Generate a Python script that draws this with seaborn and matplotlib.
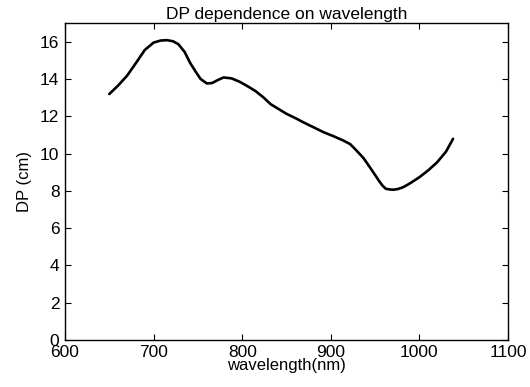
import matplotlib
matplotlib.use("Agg")
import matplotlib.pyplot as plt
import seaborn as sns
import pandas as pd

wavelength = [650, 660, 670, 680, 690, 700, 708, 715, 722, 728, 735, 741, 748, 753, 760, 766, 772, 779, 788, 797, 805, 815, 824, 832, 841, 850, 860, 870, 880, 892, 903, 914, 922, 929, 937, 944, 950, 954, 958, 962, 967, 971, 976, 982, 990, 1000, 1010, 1020, 1030, 1038]
dp = [13.19, 13.65, 14.17, 14.85, 15.55, 15.95, 16.06, 16.08, 16.02, 15.86, 15.45, 14.88, 14.35, 14.0, 13.76, 13.78, 13.93, 14.08, 14.03, 13.85, 13.64, 13.35, 13.01, 12.65, 12.39, 12.13, 11.9, 11.65, 11.42, 11.14, 10.93, 10.7, 10.5, 10.16, 9.75, 9.27, 8.85, 8.56, 8.3, 8.11, 8.07, 8.06, 8.1, 8.2, 8.42, 8.73, 9.1, 9.53, 10.1, 10.79]

df = pd.DataFrame({"wavelength": wavelength, "dp": dp})

sns.set_style("white")
plt.rcParams['font.family'] = ['Liberation Sans', 'DejaVu Sans']
plt.rcParams['text.color'] = 'black'
plt.rcParams['axes.labelcolor'] = 'black'
plt.rcParams['xtick.color'] = 'black'
plt.rcParams['ytick.color'] = 'black'

fig = plt.figure(figsize=(5.3, 3.87), dpi=100)
ax = fig.add_axes([65/530, 1 - 340/387, (508-65)/530, (340-23)/387])
sns.lineplot(data=df, x="wavelength", y="dp", ax=ax, color="black", linewidth=1.9, sort=False)

ax.set_xlim(600, 1100)
ax.set_ylim(0, 17)
ax.set_xticks([600, 700, 800, 900, 1000, 1100])
ax.set_yticks([0, 2, 4, 6, 8, 10, 12, 14, 16])
ax.tick_params(direction="in", length=4, width=0.8, top=True, right=True,
               bottom=True, left=True, labelsize=12.5, colors="black")
ax.tick_params(axis="x", pad=3.5)
ax.tick_params(axis="y", pad=4)
for s in ax.spines.values():
    s.set_visible(True)
    s.set_color("black")
    s.set_linewidth(1.0)
ax.set_title("DP dependence on wavelength", fontsize=12.5, pad=3, color="black")
ax.set_xlabel("wavelength(nm)", fontsize=12, labelpad=-1)
ax.set_ylabel("DP (cm)", fontsize=12, labelpad=6)

fig.savefig("out.png", dpi=100)
